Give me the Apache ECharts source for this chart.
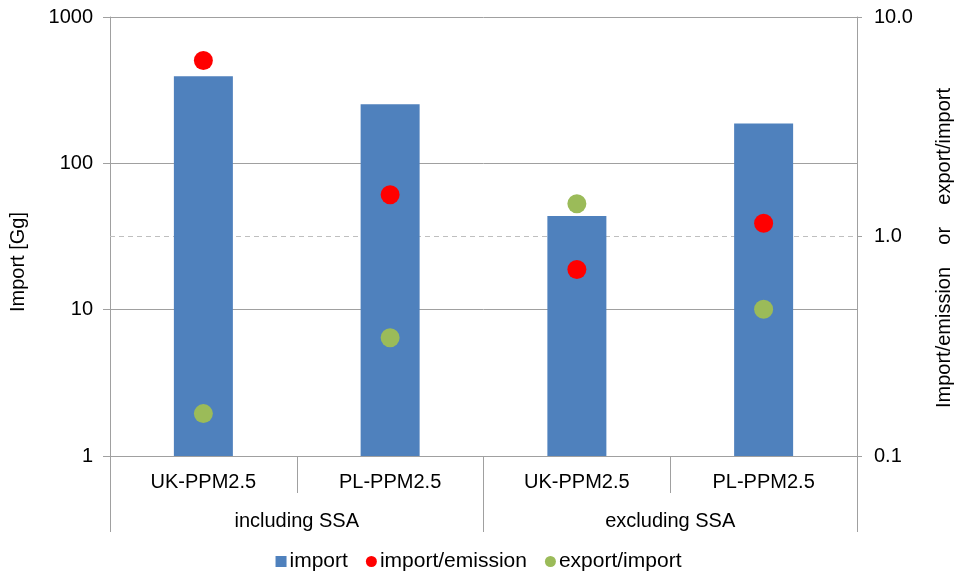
<!DOCTYPE html>
<html>
<head>
<meta charset="utf-8">
<script src="https://cdn.jsdelivr.net/npm/echarts@6/dist/echarts.min.js"></script>
<style>html,body{margin:0;padding:0;background:#fff;}#c{width:957px;height:573px;}</style>
</head>
<body>
<div id="c"></div>
<script>
const categories = ['UK-PPM2.5', 'PL-PPM2.5', 'UK-PPM2.5', 'PL-PPM2.5'];
const groups = ['including SSA', 'excluding SSA'];
const importValues = [393, 253, 43.6, 187];
const importEmission = [6.34, 1.55, 0.708, 1.15];
const exportImport = [0.156, 0.346, 1.41, 0.466];
const leftTicks = [1, 10, 100, 1000];
const rightTicks = [0.1, 1, 10];

const FONT = 'Liberation Sans, Arial, sans-serif';
const AX = '#A0A0A0';
const chart = echarts.init(document.getElementById('c'));
chart.setOption({
  animation: false,
  textStyle: { fontFamily: FONT },
  grid: { left: 110, right: 100, top: 17, bottom: 117 },
  legend: {
    top: 546, left: 'center', itemGap: 18, itemWidth: 11, itemHeight: 11,
    textStyle: { fontSize: 21, color: '#000', fontFamily: FONT, padding: [0, 0, 0, -2] },
    data: [
      { name: 'import', icon: 'rect' },
      { name: 'import/emission', icon: 'circle' },
      { name: 'export/import', icon: 'circle' }
    ]
  },
  xAxis: [
    {
      type: 'category', data: categories, position: 'bottom',
      axisLine: { lineStyle: { color: AX, width: 1 } },
      axisTick: { show: true, length: 37, lineStyle: { color: AX } },
      axisLabel: { margin: 16, fontSize: 20, color: '#000', fontFamily: FONT }
    },
    {
      type: 'category', data: groups, position: 'bottom',
      axisLine: { show: false },
      axisTick: { show: true, length: 76, lineStyle: { color: AX } },
      axisLabel: { margin: 55, fontSize: 20, color: '#000', fontFamily: FONT }
    }
  ],
  yAxis: [
    {
      type: 'log', logBase: 10, min: leftTicks[0], max: leftTicks[leftTicks.length - 1],
      position: 'left',
      axisLine: { show: true, lineStyle: { color: AX } },
      axisTick: { show: true, length: 7, lineStyle: { color: AX } },
      axisLabel: { margin: 17, fontSize: 20, color: '#000', fontFamily: FONT, formatter: v => String(Math.round(v)) },
      splitLine: { show: true, lineStyle: { color: AX, width: 1 } }
    },
    {
      type: 'log', logBase: 10, min: rightTicks[0], max: rightTicks[rightTicks.length - 1],
      position: 'right',
      axisLine: { show: true, lineStyle: { color: AX } },
      axisTick: { show: true, length: 5, lineStyle: { color: AX } },
      axisLabel: { margin: 17, fontSize: 20, color: '#000', fontFamily: FONT, formatter: v => Number(v).toFixed(1) },
      splitLine: { show: false }
    }
  ],
  series: [
    {
      name: 'import', type: 'bar', xAxisIndex: 0, yAxisIndex: 0, data: importValues,
      barWidth: 59, itemStyle: { color: '#4F81BD' }, z: 2
    },
    {
      name: 'import/emission', type: 'scatter', xAxisIndex: 0, yAxisIndex: 1, data: importEmission,
      symbolSize: 19, itemStyle: { color: '#FF0000', opacity: 1 }, z: 4,
      markLine: {
        silent: true, symbol: 'none', label: { show: false },
        lineStyle: { color: '#BFBFBF', type: [5, 4], width: 1 },
        data: [{ yAxis: 1 }], z: 1
      }
    },
    {
      name: 'export/import', type: 'scatter', xAxisIndex: 0, yAxisIndex: 1, data: exportImport,
      symbolSize: 19, itemStyle: { color: '#9BBB59', opacity: 1 }, z: 4
    }
  ],
  graphic: [
    {
      type: 'text', x: 18, y: 262, rotation: Math.PI / 2,
      style: { text: 'Import [Gg]', font: '20px ' + FONT, fill: '#000', align: 'center', verticalAlign: 'middle' }
    },
    {
      type: 'text', x: 944, y: 248, rotation: Math.PI / 2,
      style: { text: 'Import/emission    or    export/import', font: '20px ' + FONT, fill: '#000', align: 'center', verticalAlign: 'middle' }
    }
  ]
});
</script>
</body>
</html>
